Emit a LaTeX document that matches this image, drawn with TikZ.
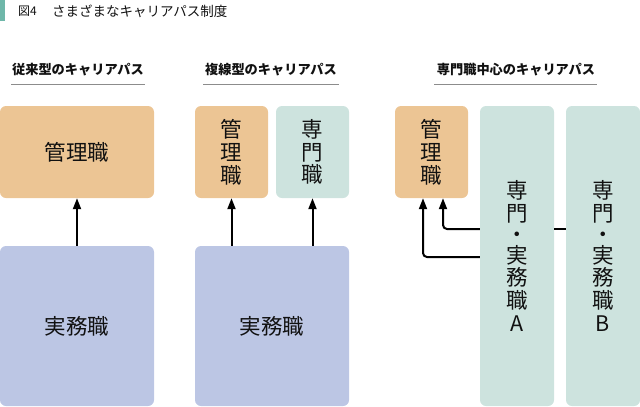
\documentclass[tikz,border=0pt]{standalone}
\usepackage{fontspec}
\setmainfont{Noto Sans CJK JP}
\newfontfamily\jpfont{Noto Sans CJK JP}
\usetikzlibrary{arrows.meta}
\definecolor{mgr}{HTML}{ECC594}
\definecolor{wrk}{HTML}{BCC6E4}
\definecolor{spc}{HTML}{CDE3DE}
\definecolor{bar}{HTML}{6FB7A9}
\definecolor{ink}{HTML}{111111}
\definecolor{rule}{HTML}{8C8C8C}
\tikzset{
  box/.style={rounded corners=6pt, inner sep=0pt, align=center, text=ink,
    font=\jpfont\fontsize{21.5}{22.8}\selectfont},
  mgrbox/.style={box, fill=mgr},
  wrkbox/.style={box, fill=wrk},
  spcbox/.style={box, fill=spc},
  arr/.style={line width=2pt, -{Triangle[length=11pt,width=8pt]}, rounded corners=4pt},
  plain/.style={line width=2pt},
  sect/.style={font=\jpfont\bfseries\fontsize{13.2}{15}\selectfont, text=ink, inner sep=0pt},
  under/.style={rule, line width=0.8pt}
}
\begin{document}
\begin{tikzpicture}[x=1pt,y=-1pt]
\useasboundingbox (0,0) rectangle (640,407);
% header
\fill[bar] (0,0) rectangle (5,21);
\node[anchor=west, inner sep=0pt, text=ink, font=\jpfont\fontsize{12}{13}\selectfont] (fig) at (18,11) {図4};
\node[anchor=west, inner sep=0pt, text=ink, font=\jpfont\fontsize{13.5}{15}\selectfont] (title) at (52,11) {さまざまなキャリアパス制度};
% section titles
\node[sect] (s1) at (78,70) {従来型のキャリアパス};
\node[sect] (s2) at (271,70) {複線型のキャリアパス};
\node[sect] (s3) at (516,70) {専門職中心のキャリアパス};
\draw[under] (11,84) -- (145,84);
\draw[under] (203,84) -- (339,84);
\draw[under] (434,84) -- (597,84);
% column 1
\node[mgrbox, minimum width=154pt, minimum height=92pt] (m1) at (77,152) {管理職};
\node[wrkbox, minimum width=154pt, minimum height=160pt] (w1) at (77,326) {実務職};
\draw[arr] (w1.north) -- (m1.south);
% column 2
\node[mgrbox, minimum width=73pt, minimum height=92pt] (m2) at (231.5,152) {管\\理\\職};
\node[spcbox, minimum width=73pt, minimum height=92pt] (p2) at (312.5,152) {専\\門\\職};
\node[wrkbox, minimum width=154pt, minimum height=160pt] (w2) at (272,326) {実務職};
\draw[arr] (m2.south |- w2.north) -- (m2.south);
\draw[arr] (p2.south |- w2.north) -- (p2.south);
% column 3
\node[mgrbox, minimum width=73pt, minimum height=92pt] (m3) at (431.5,152) {管\\理\\職};
\node[spcbox, minimum width=74pt, minimum height=300pt] (a3) at (517,256) {専\\門\\[-2pt]・\\[-2pt]実\\務\\職\\A};
\node[spcbox, minimum width=74pt, minimum height=300pt] (b3) at (603,256) {専\\門\\[-2pt]・\\[-2pt]実\\務\\職\\B};
\draw[arr] ([yshift=27pt]a3.west) -| ([xshift=11.5pt]m3.south);
\draw[arr] ([yshift=-1pt]a3.west) -| ([xshift=-8.5pt]m3.south);
\draw[plain] ([yshift=27pt]a3.east) -- ([yshift=27pt]b3.west);
\end{tikzpicture}
\end{document}
